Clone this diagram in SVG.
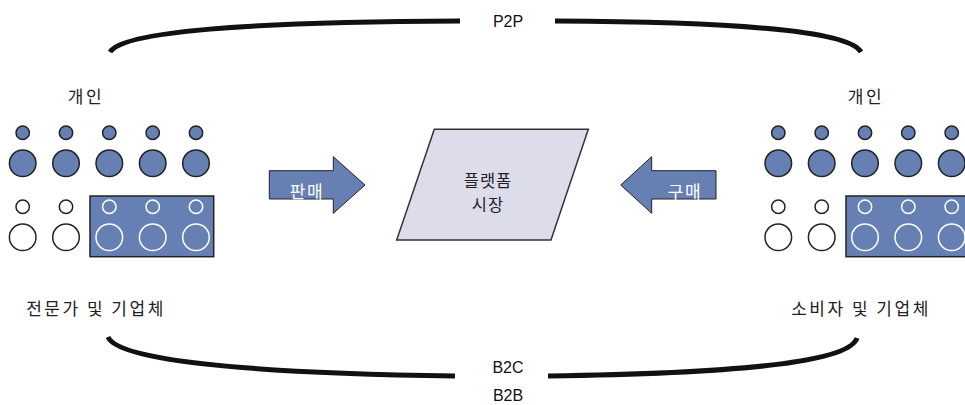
<svg xmlns="http://www.w3.org/2000/svg" width="965" height="405" viewBox="0 0 965 405">
<defs>
<style>
.t{font-family:"Noto Sans CJK KR","Noto Sans",sans-serif;font-size:17px;fill:#222;letter-spacing:2.5px}
.l{font-family:"Liberation Sans",Arial,sans-serif;font-size:16px;fill:#111}
.arc{fill:none;stroke:#111;stroke-width:5;stroke-linecap:butt}
.bs{fill:#6680b3;stroke:#222;stroke-width:1.5}
.ws{fill:#fff;stroke:#222;stroke-width:1.5}
.in{fill:none;stroke:#fff;stroke-width:1.5}
.box{fill:#6680b3;stroke:#222;stroke-width:1.5}
.arr{fill:#6680b3;stroke:#222;stroke-width:1}
.at{font-family:"Noto Sans CJK KR",sans-serif;font-size:17px;fill:#fff;letter-spacing:1.5px}
.pt{font-family:"Noto Sans CJK KR","Noto Sans",sans-serif;font-size:16.5px;fill:#222;letter-spacing:1px}
</style>
</defs>
<rect width="965" height="405" fill="#fff"/>
<g id="connectors">
<path class="arc" d="M110,52 C122,32 240,22 460,21"/>
<path class="arc" d="M555,21 C760,22 850,33 861,52"/>
<path class="arc" d="M108,337 C118,360 240,373 455,376"/>
<path class="arc" d="M548,376 C760,373 850,360 857,338"/>
<text class="l" x="508" y="27" text-anchor="middle">P2P</text>
<text class="l" x="508" y="373" text-anchor="middle">B2C</text>
<text class="l" x="508" y="401" text-anchor="middle">B2B</text>
</g>
<g id="left-group">
<text class="t" x="86" y="103" text-anchor="middle">개인</text>
<circle class="bs" cx="22.7" cy="132.7" r="6.7"/><circle class="bs" cx="66" cy="132.7" r="6.7"/><circle class="bs" cx="109.3" cy="132.7" r="6.7"/><circle class="bs" cx="152.7" cy="132.7" r="6.7"/><circle class="bs" cx="196" cy="132.7" r="6.7"/>
<circle class="bs" cx="22.7" cy="163.3" r="13.3"/><circle class="bs" cx="66" cy="163.3" r="13.3"/><circle class="bs" cx="109.3" cy="163.3" r="13.3"/><circle class="bs" cx="152.7" cy="163.3" r="13.3"/><circle class="bs" cx="196" cy="163.3" r="13.3"/>
<circle class="ws" cx="22.7" cy="206.7" r="6.7"/><circle class="ws" cx="66" cy="206.7" r="6.7"/>
<circle class="ws" cx="22.7" cy="237.3" r="13.3"/><circle class="ws" cx="66" cy="237.3" r="13.3"/>
<rect class="box" x="90" y="196" width="123.7" height="60.7"/>
<circle class="in" cx="109.3" cy="206.7" r="6.7"/><circle class="in" cx="152.7" cy="206.7" r="6.7"/><circle class="in" cx="196" cy="206.7" r="6.7"/>
<circle class="in" cx="109.3" cy="237.3" r="13.3"/><circle class="in" cx="152.7" cy="237.3" r="13.3"/><circle class="in" cx="196" cy="237.3" r="13.3"/>
<text class="t" x="96" y="315" text-anchor="middle">전문가 및 기업체</text>
</g>
<g id="right-group">
<text class="t" x="866" y="103" text-anchor="middle">개인</text>
<circle class="bs" cx="778.3" cy="132.7" r="6.7"/><circle class="bs" cx="821.7" cy="132.7" r="6.7"/><circle class="bs" cx="865" cy="132.7" r="6.7"/><circle class="bs" cx="908.3" cy="132.7" r="6.7"/><circle class="bs" cx="951.7" cy="132.7" r="6.7"/>
<circle class="bs" cx="778.3" cy="163.3" r="13.3"/><circle class="bs" cx="821.7" cy="163.3" r="13.3"/><circle class="bs" cx="865" cy="163.3" r="13.3"/><circle class="bs" cx="908.3" cy="163.3" r="13.3"/><circle class="bs" cx="951.7" cy="163.3" r="13.3"/>
<circle class="ws" cx="778.3" cy="206.7" r="6.7"/><circle class="ws" cx="821.7" cy="206.7" r="6.7"/>
<circle class="ws" cx="778.3" cy="237.3" r="13.3"/><circle class="ws" cx="821.7" cy="237.3" r="13.3"/>
<rect class="box" x="846" y="196" width="125" height="60.7"/>
<circle class="in" cx="865" cy="206.7" r="6.7"/><circle class="in" cx="908.3" cy="206.7" r="6.7"/><circle class="in" cx="951.7" cy="206.7" r="6.7"/>
<circle class="in" cx="865" cy="237.3" r="13.3"/><circle class="in" cx="908.3" cy="237.3" r="13.3"/><circle class="in" cx="951.7" cy="237.3" r="13.3"/>
<text class="t" x="861" y="315" text-anchor="middle">소비자 및 기업체</text>
</g>
<g id="sell-arrow">
<path class="arr" d="M269.3,170.7 H333.3 V156.7 L365,185 L333.3,213.3 V199 H269.3 Z"/>
<text class="at" x="307" y="198" text-anchor="middle">판매</text>
</g>
<g id="buy-arrow">
<path class="arr" d="M716,170.7 H651.7 V156.7 L620.7,185 L651.7,213.3 V199 H716 Z"/>
<text class="at" x="685" y="198" text-anchor="middle">구매</text>
</g>
<g id="platform">
<path d="M434.3,129.3 H588.3 L551,240 H396.7 Z" fill="#dcdcea" stroke="#333" stroke-width="1.5"/>
<text class="pt" x="488" y="187" text-anchor="middle">플랫폼</text>
<text class="pt" x="488" y="211" text-anchor="middle">시장</text>
</g>
</svg>
